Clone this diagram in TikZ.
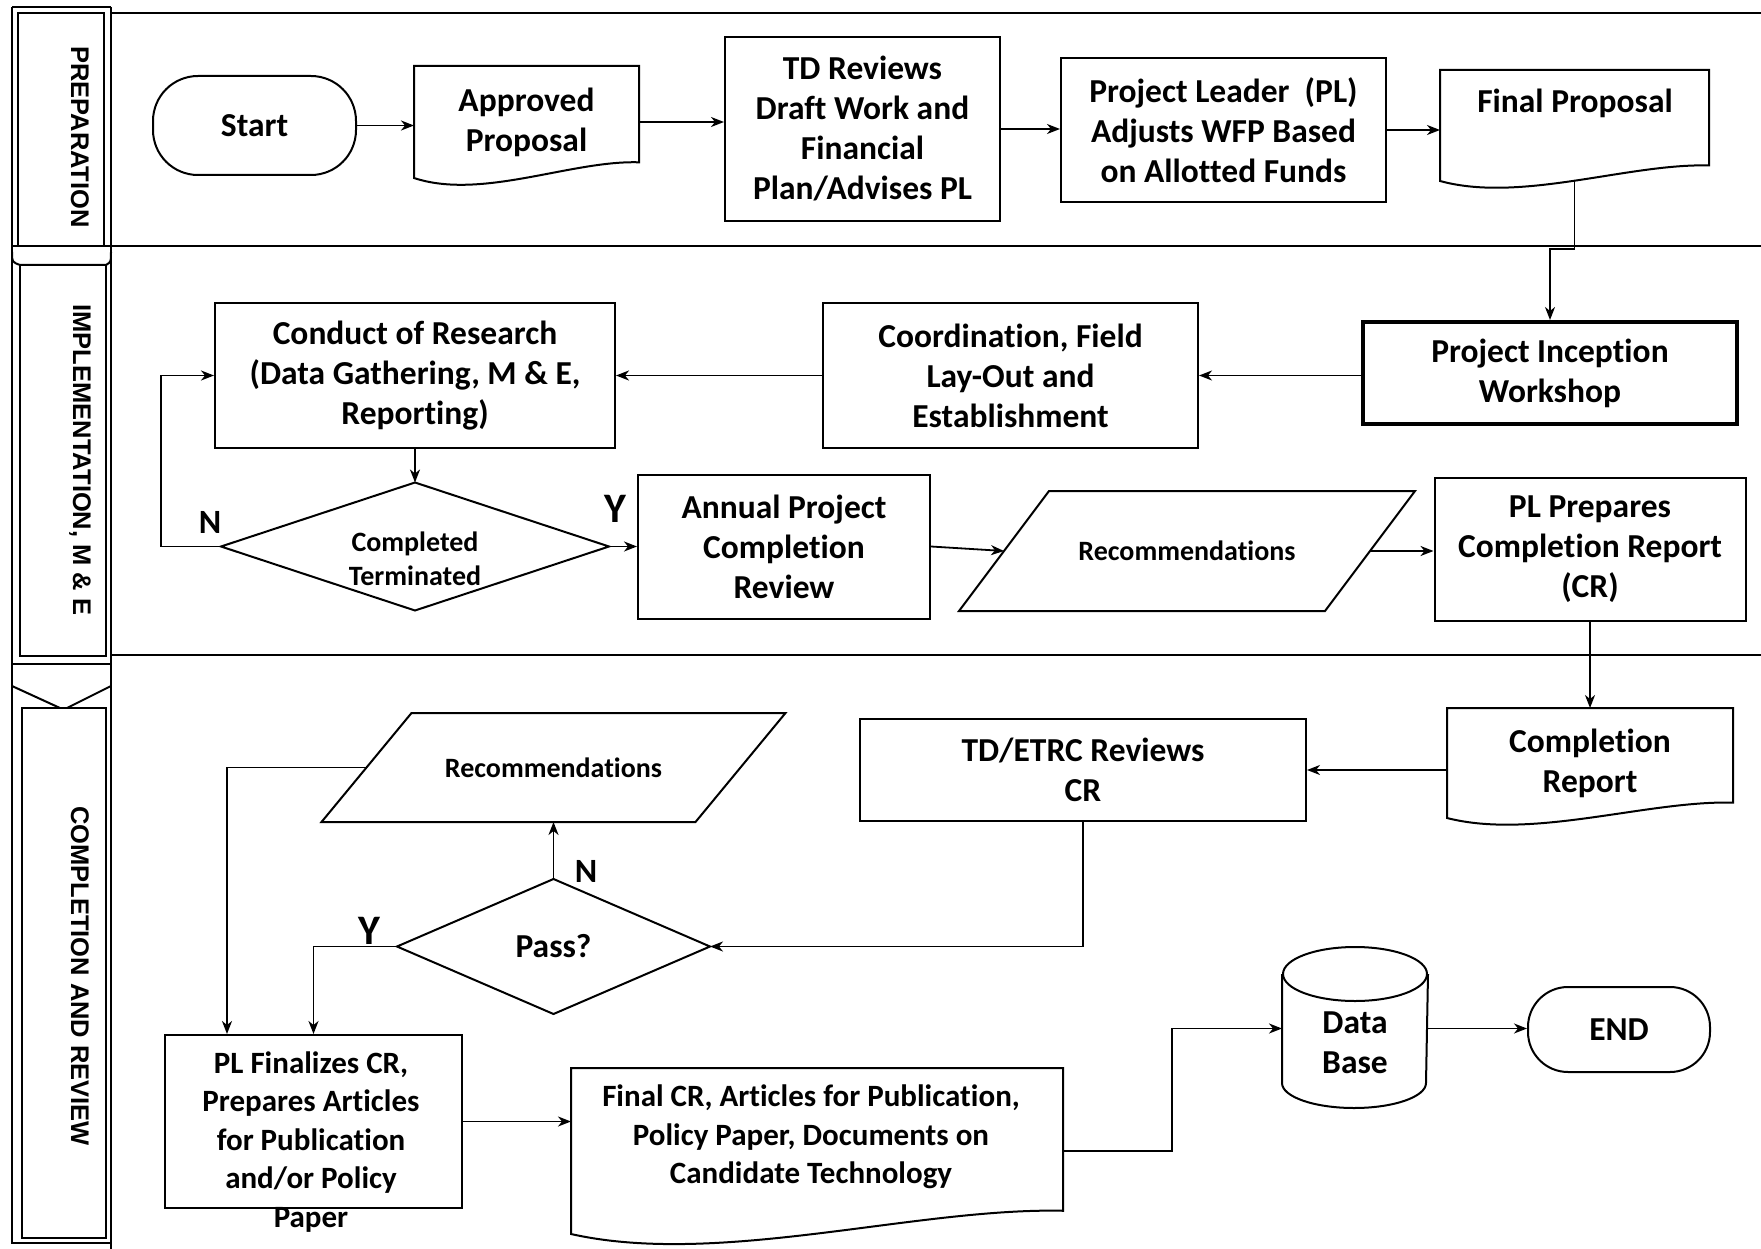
\documentclass[tikz,border=0pt]{standalone}
\usepackage{fontspec}
\setmainfont{Carlito}[Ligatures=NoCommon]
\newfontfamily\arialf{Liberation Sans}
\usetikzlibrary{calc,arrows.meta}
\newcommand\mainf{\fontsize{33.5}{40}\selectfont\bfseries}
\newcommand\midf{\fontsize{31}{38.5}\selectfont\bfseries}
\newcommand\smallf{\fontsize{28}{33.7}\selectfont\bfseries}
\newcommand\lanef{\arialf\fontsize{25.5}{30}\selectfont\bfseries}
\newcommand\nf{\fontsize{34}{40}\selectfont\bfseries}
\newcommand\yf{\fontsize{42}{50}\selectfont\bfseries}
\newcommand\docpath[1]{%
  \draw let \p1=(#1.south west), \p2=(#1.north east), \n1={\x2-\x1}, \n2={\y2-\y1} in
  (\x1,\y2) -- (\x2,\y2) -- ({\x2},{\y1+0.14*\n2})
  .. controls ({\x2-0.3*\n1},{\y1+0.16*\n2}) and ({\x1+0.3*\n1},{\y1-0.2*\n2}) .. (\x1,\y1) -- cycle;}
\newcommand\parapath[2]{%
  \draw ([xshift=#2pt]#1.north west) -- ([xshift=#2pt]#1.north east) -- ([xshift=-#2pt]#1.south east) -- ([xshift=-#2pt]#1.south west) -- cycle;}
\tikzset{
  sz/.style 2 args={minimum width=#1pt,minimum height=#2pt},
  box/.style={draw,rectangle,inner sep=0pt,align=center,font=\mainf},
  ghost/.style={rectangle,inner sep=0pt,align=center,font=\mainf},
  txt/.style={inner sep=0pt,align=center,font=\mainf},
  lane/.style={rotate=-90,inner sep=0pt,font=\lanef},
  arr/.style={-{Stealth[length=13pt,width=10pt,inset=4pt]},line width=1.8pt}
}
\begin{document}
\begin{tikzpicture}[x=1pt,y=-1pt,line width=2pt]
\useasboundingbox (0,0) rectangle (1761,1249);
% ---------- swim-lane frame ----------
\draw (12,7) -- (111,7);
\draw (12,7) -- (12,1243) -- (111,1243);
\draw (111,7) -- (111,1249);
\draw (111,13) -- (1761,13);
\draw (111,246) -- (1761,246);
\draw (111,655) -- (1761,655);
\draw (18,13) rectangle (104,246);
\draw (12,246) -- (111,246);
\draw (12,252) .. controls (12,262) .. (20,265) -- (106,265) .. controls (111,262) .. (111,252);
\draw (20,265) rectangle (106,656);
\draw (12,664) -- (111,664);
\draw (12,686) -- (60,708);
\draw (111,686) -- (67,708);
\draw (22,708) rectangle (106,1238);
\node[lane] (lprep) at (80,137) {PREPARATION};
\node[lane] (limp) at (80,460) {IMPLEMENTATION, M \& E};
\node[lane] (lcomp) at (80,976) {COMPLETION AND REVIEW};
% ---------- preparation ----------
\node[box,rounded corners=45pt,sz={203}{99}] (start) at (254.5,125.5) {Start};
\node[ghost,sz={223}{110}] (ap) at (526.5,122) {Approved\\Proposal};
\docpath{ap}
\node[box,sz={275}{184}] (td) at (862.5,129) {TD Reviews\\Draft Work and\\Financial\\Plan/Advises PL};
\node[box,sz={325}{144}] (pl) at (1223.5,130) {Project Leader~~(PL)\\Adjusts WFP Based\\on Allotted Funds};
\node[ghost,sz={267}{109}] (fp) at (1574.5,125.5) {};
\docpath{fp}
\node[txt] (fpt) at (1575,103) {Final Proposal};
% ---------- implementation ----------
\node[box,line width=4pt,sz={374}{102}] (pi) at (1550,373) {Project Inception\\Workshop};
\node[box,sz={375}{145}] (co) at (1010.5,375.5) {Coordination, Field\\Lay-Out and\\Establishment};
\node[box,sz={400}{145}] (cr) at (415,375.5) {Conduct of Research\\(Data Gathering, M \& E,\\Reporting)};
\node[ghost,sz={386}{126}] (dm1) at (415,546.5) {};
\draw (dm1.north) -- (dm1.east) -- (dm1.south) -- (dm1.west) -- cycle;
\node[txt,font=\smallf] (dm1t) at (415,559) {Completed\\Terminated};
\node[box,sz={292}{144}] (ann) at (784,546.5) {Annual Project\\Completion\\Review};
\node[ghost,font=\smallf,sz={364}{118}] (rec1) at (1187,551) {Recommendations};
\parapath{rec1}{45}
\node[box,sz={311}{143}] (plp) at (1590,549.5) {PL Prepares\\Completion Report\\(CR)};
% ---------- completion ----------
\node[ghost,sz={284}{108}] (crp) at (1590,763) {Completion\\Report};
\docpath{crp}
\node[box,sz={446}{102}] (tde) at (1083,770) {TD/ETRC Reviews\\CR};
\node[ghost,sz={311}{133}] (pass) at (553.5,946.5) {Pass?};
\draw (pass.north) -- (pass.east) -- (pass.south) -- (pass.west) -- cycle;
\node[ghost,font=\smallf,sz={372}{107}] (rec2) at (553.5,767.5) {Recommendations};
\parapath{rec2}{45}
\node[box,sz={297}{173}] (plf) at (313.5,1121.5) {};
\node[txt,font=\midf] (plft) at (311,1142) {PL Finalizes CR,\\Prepares Articles\\for Publication\\and/or Policy\\Paper};
\node[ghost,sz={490}{164}] (fcr) at (817,1151) {};
\docpath{fcr}
\node[txt,font=\midf] (fcrt) at (811,1137) {Final CR, Articles for Publication,\\Policy Paper, Documents on\\Candidate Technology};
\node[ghost,sz={144}{107}] (db) at (1355,1028.5) {};
\draw (db.north) ellipse [x radius=72pt,y radius=27pt];
\draw (db.north west) -- (db.south west) arc[start angle=180,end angle=360,x radius=72pt,y radius=25pt] -- (db.north east);
\node[txt] (dbt) at (1355,1043) {Data\\Base};
\node[box,rounded corners=40pt,sz={182}{85}] (endn) at (1619,1029.5) {END};
% ---------- labels ----------
\node[txt,font=\nf] (n1) at (210,522) {N};
\node[txt,font=\yf] (y1) at (615,509) {Y};
\node[txt,font=\nf] (n2) at (586,871.5) {N};
\node[txt,font=\yf] (y2) at (369.5,931) {Y};
% ---------- connectors ----------
\draw[arr] (start.east) -- (start.east -| ap.west);
\draw[arr] (ap.east) -- (ap.east -| td.west);
\draw[arr] (td.east) -- (td.east -| pl.west);
\draw[arr] (pl.east) -- (pl.east -| fp.west);
\draw[arr] (fp.south) -- ++(0,68) -| (pi.north);
\draw[arr] (pi.west |- co.east) -- (co.east);
\draw[arr] (co.west) -- (cr.east);
\draw[arr] (cr.south) -- (dm1.north);
\draw[arr] (dm1.west) -- ++(-60,0) |- (cr.west);
\draw[arr] (dm1.east) -- (ann.west);
\draw[arr] (ann.east) -- (rec1.west);
\draw[arr] (rec1.east) -- (rec1.east -| plp.west);
\draw[arr] (plp.south) -- (crp.north);
\draw[arr] (crp.west |- tde.east) -- (tde.east);
\draw[arr] (tde.south) |- (pass.east);
\draw[arr] (pass.north) -- (rec2.south);
\draw[arr] (rec2.west) -| ([xshift=63pt]plf.north west);
\draw[arr] (pass.west) -| (plf.north);
\draw[arr] (plf.east) -- (plf.east -| fcr.west);
\draw[arr] (fcr.east) -- ++(109,0) |- (db.west);
\draw[arr] (db.east) -- (db.east -| endn.west);
\end{tikzpicture}
\end{document}
